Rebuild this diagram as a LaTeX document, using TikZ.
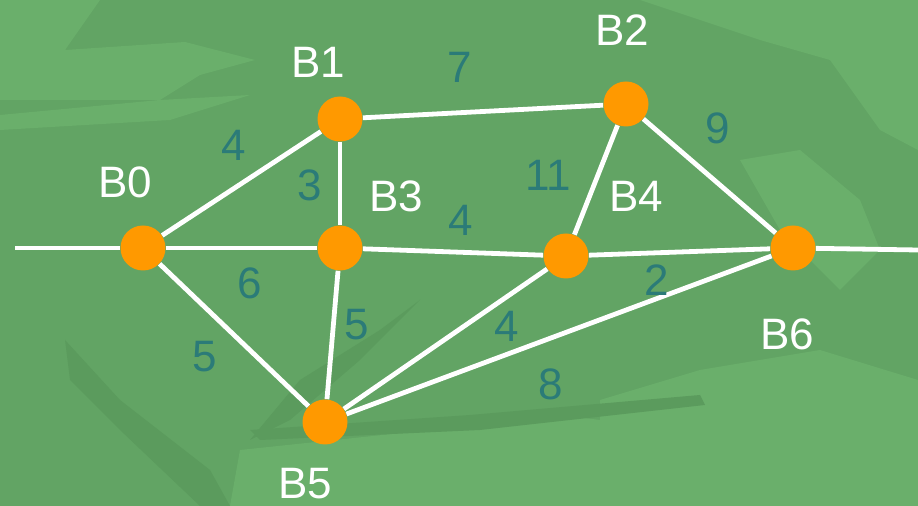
\documentclass[tikz,border=0pt]{standalone}
\usepackage{fontspec}
\setmainfont{Liberation Sans}
\definecolor{meadow}{HTML}{62A464}
\definecolor{meadowlight}{HTML}{6AAF6B}
\definecolor{meadowdark}{HTML}{5B9B5D}
\definecolor{weightcol}{HTML}{2B7B78}
\definecolor{nodeorange}{HTML}{FF9900}
\tikzset{
  block/.style={
    circle,
    fill=nodeorange,
    minimum size=22.5pt,
    inner sep=0pt
  },
  blocklabel/.style={
    text=white,
    font=\fontsize{22}{24}\selectfont
  },
  weight/.style={
    text=weightcol,
    font=\fontsize{22}{24}\selectfont
  },
  link/.style={draw=white,line width=2.4pt}
}

\begin{document}
\begin{tikzpicture}[x=0.5pt,y=-0.5pt]
  % background
  \fill[meadow] (0,0) rectangle (918,506);
  \fill[meadowlight] (0,0) -- (100,0) -- (65,50) -- (185,42) -- (255,60)
    -- (200,75) -- (160,100) -- (0,100) -- cycle;
  \fill[meadowlight] (0,115) -- (160,100) -- (250,95) -- (170,120) -- (0,130) -- cycle;
  \fill[meadowlight] (640,0) -- (918,0) -- (918,150) -- (880,130) -- (830,60)
    -- (760,40) -- (700,20) -- cycle;
  \fill[meadowlight] (740,160) -- (800,150) -- (860,200) -- (880,250) -- (840,290) -- (780,230) -- cycle;
  \fill[meadowlight] (600,400) -- (700,370) -- (820,350) -- (918,380)
    -- (918,506) -- (600,506) -- cycle;
  \fill[meadowlight] (240,450) -- (430,430) -- (560,415) -- (680,430) -- (600,506) -- (230,506) -- cycle;
  \fill[meadowdark] (65,340) -- (120,400) -- (210,470) -- (230,506) -- (200,506) -- (120,430) -- (70,380) -- cycle;
  \fill[meadowdark] (250,430) -- (470,415) -- (700,395) -- (705,405) -- (480,430) -- (260,440) -- cycle;
  \fill[meadowdark] (250,440) -- (300,380) -- (380,330) -- (420,300) -- (360,360) -- (290,420) -- cycle;
  \useasboundingbox (0,0) rectangle (918,506);

  % blocks
  \node[block] (b0) at (143,248) {};
  \node[block] (b1) at (340,119) {};
  \node[block] (b2) at (626,104) {};
  \node[block] (b3) at (340,248) {};
  \node[block] (b4) at (566,256) {};
  \node[block] (b5) at (325,422) {};
  \node[block] (b6) at (793,248) {};
  \coordinate (entry) at (15,248);
  \coordinate (exit) at (918,250);

  \node[blocklabel] (l0) at (125,182) {B0};
  \node[blocklabel] (l1) at (318,62) {B1};
  \node[blocklabel] (l2) at (622,30) {B2};
  \node[blocklabel] (l3) at (396,196) {B3};
  \node[blocklabel] (l4) at (636,196) {B4};
  \node[blocklabel] (l5) at (305,484) {B5};
  \node[blocklabel] (l6) at (787,334) {B6};

  % links
  \draw[link] (entry) -- (b0);
  \draw[link] (b6) -- (exit);
  \draw[link] (b0) -- (b1);
  \draw[link] (b0) -- (b3);
  \draw[link] (b0) -- (b5);
  \draw[link] (b1) -- (b3);
  \draw[link] (b1) -- (b2);
  \draw[link] (b3) -- (b4);
  \draw[link] (b3) -- (b5);
  \draw[link] (b2) -- (b4);
  \draw[link] (b2) -- (b6);
  \draw[link] (b4) -- (b6);
  \draw[link] (b4) -- (b5);
  \draw[link] (b5) -- (b6);

  % weights
  \node[weight] (w01) at (234,145) {4};
  \node[weight] (w12) at (460,67) {7};
  \node[weight] (w26) at (718,128) {9};
  \node[weight] (w13) at (310,185) {3};
  \node[weight] (w24) at (548,175) {11};
  \node[weight] (w34) at (461,220) {4};
  \node[weight] (w03) at (250,283) {6};
  \node[weight] (w46) at (657,280) {2};
  \node[weight] (w35) at (357,325) {5};
  \node[weight] (w45) at (507,326) {4};
  \node[weight] (w05) at (205,357) {5};
  \node[weight] (w56) at (551,384) {8};
\end{tikzpicture}
\end{document}
